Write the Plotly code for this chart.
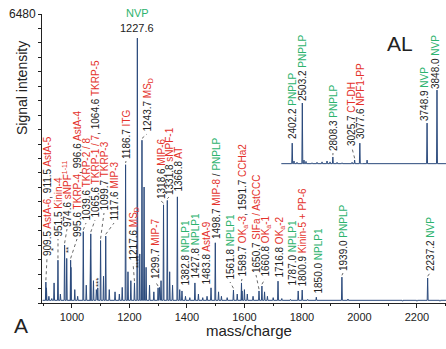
import plotly.graph_objects as go

# ---------------- data ----------------
main_mz = [909.5, 911.5, 938.0, 951.5, 974.6, 982.0, 995.6, 996.6, 1039.6, 1064.6,
           1065.6, 1090.0, 1099.7, 1117.6, 1186.7, 1217.6, 1227.6, 1236.0, 1243.7,
           1251.0, 1299.7, 1318.6, 1331.8, 1366.8, 1382.8, 1427.8, 1483.8, 1498.7,
           1561.8, 1589.7, 1591.7, 1650.7, 1660.8, 1716.8, 1787.0, 1800.9, 1850.0,
           1939.0, 2237.2]
main_int = [470, 340, 450, 960, 1300, 1000, 960, 800, 1600, 1200,
            1550, 340, 1400, 1500, 3100, 450, 5940, 1100, 3650,
            2600, 340, 2200, 2300, 2380, 270, 450, 340, 1350,
            290, 450, 270, 270, 380, 490, 270, 290, 130,
            580, 560]

minor_mz = [920, 930, 960, 1010, 1020, 1050, 1075, 1085, 1110, 1130, 1150, 1165,
            1175, 1195, 1205, 1258, 1270, 1285, 1305, 1310, 1340, 1350, 1375, 1395,
            1410, 1440, 1455, 1470, 1510, 1520, 1540, 1575, 1600, 1610, 1630, 1670,
            1680, 1700, 1730, 1760, 1820, 1870, 1900, 1960, 2000, 2050, 2100, 2150,
            2200, 2280]
minor_int = [150, 100, 200, 300, 150, 400, 500, 300, 600, 300, 250, 200,
             350, 700, 500, 800, 400, 250, 350, 500, 700, 400, 300, 150,
             120, 200, 120, 150, 250, 150, 120, 200, 300, 200, 150, 250,
             150, 120, 100, 80, 80, 60, 70, 90, 60, 50, 50, 40,
             40, 40]

inset_mz = [2402.2, 2503.2, 2808.3, 3025.7, 3077.6, 3748.9, 3848.0]
inset_int = [490, 1390, 180, 110, 490, 940, 1680]
inset_minor_mz = [2420, 2450, 2520, 2540, 2600, 2650, 2700, 2750, 2780, 2850,
                  2900, 2950, 3000, 3100, 3150, 3200, 3300, 3400, 3500, 3600, 3700]
inset_minor_int = [90, 60, 110, 80, 50, 60, 70, 90, 70, 60,
                   50, 40, 60, 40, 110, 40, 30, 30, 30, 30, 25]

x_ticks = [1000, 1200, 1400, 1600, 1800, 2000, 2200]
y_top = 6480

K, R, G = "#222222", "#e4322b", "#2db36e"

main_labels = [
    (909.5, [("909.5 ", K), ("AstA-6", R), (", 911.5 ", K), ("AstA-5", R)]),
    (951.5, [("951.5 ", K), ("Kinin-4", R)]),
    (974.6, [("974.6 ", K), ("sNPF<sup>1-11</sup>", R)]),
    (995.6, [("995.6 ", K), ("TKRP-4", R), (", 996.6 ", K), ("AstA-4", R)]),
    (1039.6, [("1039.6 ", K), ("TKRP-2 / 8", R)]),
    (1065.6, [("1065.6 ", K), ("TKRP-1 / 7", R), (", 1064.6 ", K), ("TKRP-5", R)]),
    (1099.7, [("1099.7 ", K), ("TKRP-3", R)]),
    (1117.6, [("1117.6 ", K), ("MIP-3", R)]),
    (1186.7, [("1186.7 ", K), ("ITG", R)]),
    (1217.6, [("1217.6 ", K), ("MS<sub>D</sub>", R)]),
    (1243.7, [("1243.7 ", K), ("MS<sub>D</sub>", R)]),
    (1299.7, [("1299.7 ", K), ("MIP-7", R)]),
    (1318.6, [("1318.6 ", K), ("MIP-6", R)]),
    (1331.8, [("1331.8 ", K), ("sNPF-1", R)]),
    (1366.8, [("1366.8 ", K), ("AT", R)]),
    (1382.8, [("1382.8 ", K), ("NPLP1", G)]),
    (1427.8, [("1427.8 ", K), ("NPLP1", G)]),
    (1483.8, [("1483.8 ", K), ("AstA-9", R)]),
    (1498.7, [("1498.7 ", K), ("MIP-8", R), (" / ", K), ("PNPLP", G)]),
    (1561.8, [("1561.8 ", K), ("NPLP1", G)]),
    (1589.7, [("1589.7 ", K), ("OK<sub>a</sub>-3", R), (", 1591.7 ", K), ("CCHa2", R)]),
    (1650.7, [("1650.7 ", K), ("SIFa / AstCCC", R)]),
    (1660.8, [("1660.8 ", K), ("OK<sub>a</sub>-1", R)]),
    (1716.8, [("1716.8 ", K), ("OK<sub>a</sub>-2", R)]),
    (1787.0, [("1787.0 ", K), ("NPLP1", G)]),
    (1800.9, [("1800.9 ", K), ("Kinin-5 + PP-6", R)]),
    (1850.0, [("1850.0 ", K), ("NPLP1", G)]),
    (1939.0, [("1939.0 ", K), ("PNPLP", G)]),
    (2237.2, [("2237.2 ", K), ("NVP", G)]),
]
inset_labels = [
    (2402.2, [("2402.2 ", K), ("PNPLP", G)]),
    (2503.2, [("2503.2 ", K), ("PNPLP", G)]),
    (2808.3, [("2808.3 ", K), ("PNPLP", G)]),
    (3025.7, [("3025.7 ", K), ("CT-DH", R)]),
    (3077.6, [("3077.6 ", K), ("NPF1-PP", R)]),
    (3748.9, [("3748.9 ", K), ("NVP", G)]),
    (3848.0, [("3848.0 ", K), ("NVP", G)]),
]

# ---------------- layout (positions in page pixels) ----------------
W, H = 446, 349
L, T, B = 42, 14, 46
PW, PH = W - L, H - T - B
X_RANGE = [896, 2301]
UNIT_PER_PX = y_top / PH
INSET_RANGE = [2292, 3938]
INSET_BASE_PX = 165

# label column x (px) and bottom y (px)
main_label_pos = [(47, 257), (58, 238), (67, 228), (77, 238), (86, 222), (95, 219),
                  (104, 212), (114, 222), (126, 160), (133, 262), (147, 133),
                  (155, 280), (161, 200), (169, 196), (178, 193), (185, 287),
                  (195, 280), (206, 286), (216, 240), (230, 281), (242, 278),
                  (256, 274), (265, 278), (279, 279), (292, 287), (302, 288),
                  (318, 295), (343, 272), (430, 272)]
inset_label_pos = [(292, 140), (302, 102), (333, 152), (352, 147), (360, 140),
                   (425, 122), (435, 90)]

FONT = "Liberation Sans, Arial, sans-serif"


def px_to_paper(px, py):
    return (px - L) / PW, (H - B - py) / PH


def sticks(mz, it, base, w, lo, hi):
    pts = sorted(zip(mz, it))
    xs, ys = [lo], [base]
    for m, h in pts:
        xs += [m - w, m, m + w]
        ys += [base, h, base]
    xs.append(hi)
    ys.append(base)
    return xs, ys


fig = go.Figure()

mx, my = sticks(main_mz + minor_mz, main_int + minor_int, 60, 1.6, X_RANGE[0] + 2, X_RANGE[1])
fig.add_trace(go.Scatter(x=mx, y=my, mode="lines", line=dict(color="#2b4a7c", width=1),
                         hoverinfo="skip", xaxis="x", yaxis="y"))

ix, iy = sticks(inset_mz + inset_minor_mz, inset_int + inset_minor_int, 30, 4.5,
                INSET_RANGE[0], INSET_RANGE[1])
fig.add_trace(go.Scatter(x=ix, y=iy, mode="lines", line=dict(color="#2b4a7c", width=1),
                         hoverinfo="skip", xaxis="x2", yaxis="y2"))

# leader lines
inset_units = (PH - (H - B - INSET_BASE_PX)) * UNIT_PER_PX


def add_leaders(labels, pos, mzs, ints, xa, ya, base_px):
    for (m, _), (cx, by) in zip(labels, pos):
        h = ints[mzs.index(m)]
        top_px = base_px - h / UNIT_PER_PX
        if top_px - by > 4:
            if xa == "x":
                lx = X_RANGE[0] + (cx - L) / PW * (X_RANGE[1] - X_RANGE[0])
                ly = (H - B - by - 1) * UNIT_PER_PX
            else:
                x0 = L + 0.592 * PW
                lx = INSET_RANGE[0] + (cx - x0) / (W - x0) * (INSET_RANGE[1] - INSET_RANGE[0])
                ly = (base_px - by - 1) * UNIT_PER_PX
            fig.add_trace(go.Scatter(x=[m, lx], y=[h + 40, ly], mode="lines",
                                     line=dict(color="#444444", width=0.8, dash="dot"),
                                     hoverinfo="skip", xaxis=xa, yaxis=ya))


add_leaders(main_labels, main_label_pos, main_mz, main_int, "x", "y", H - B)
add_leaders(inset_labels, inset_label_pos, inset_mz, inset_int, "x2", "y2", INSET_BASE_PX)


def rich(parts):
    return "".join(f'<span style="color:{c}">{t}</span>' for t, c in parts)


anns = []
for (m, parts), (cx, by) in zip(main_labels + inset_labels, main_label_pos + inset_label_pos):
    xp, yp = px_to_paper(cx, by)
    anns.append(dict(x=xp, y=yp, xref="paper", yref="paper", text=rich(parts),
                     textangle=-90, xanchor="center", yanchor="bottom", showarrow=False,
                     borderpad=0, font=dict(family=FONT, size=10, color=K)))

# top NVP label of 1227.6
for txt, col, py in [("NVP", G, 13), ("1227.6", K, 28)]:
    xp, yp = px_to_paper(137, py)
    anns.append(dict(x=xp, y=yp, xref="paper", yref="paper", text=txt, showarrow=False,
                     xanchor="center", yanchor="middle", font=dict(family=FONT, size=11, color=col)))

# asterisks
for txt, px, py in [("*", 53, 250), ("**", 68, 250), ("***", 98, 283), ("****", 138, 262)]:
    xp, yp = px_to_paper(px, py)
    anns.append(dict(x=xp, y=yp, xref="paper", yref="paper", text=txt, showarrow=False,
                     textangle=-90, xanchor="center", yanchor="middle",
                     font=dict(family=FONT, size=8, color=K)))

# titles and panel letters
for txt, px, py, size, ang in [("Signal intensity", 22, 88, 14, -90),
                               ("mass/charge", 249, 330, 15, 0),
                               ("A", 21, 325, 21, 0),
                               ("AL", 400, 43, 21, 0),
                               ("6480", 22, 14, 12, 0)]:
    xp, yp = px_to_paper(px, py)
    anns.append(dict(x=xp, y=yp, xref="paper", yref="paper", text=txt, showarrow=False,
                     textangle=ang, xanchor="center", yanchor="middle",
                     font=dict(family=FONT, size=size, color=K)))

n_y = 20
fig.update_layout(
    width=W, height=H, margin=dict(l=L, r=0, t=T, b=B),
    paper_bgcolor="white", plot_bgcolor="white", showlegend=False,
    font=dict(family=FONT, size=11, color=K),
    xaxis=dict(range=X_RANGE, domain=[0, 1], showgrid=False, zeroline=False,
               showline=True, linecolor="#222", linewidth=1, ticks="outside",
               ticklen=4, tickcolor="#222", tickvals=x_ticks,
               tickfont=dict(family=FONT, size=11, color=K),
               minor=dict(dtick=100, ticks="outside", ticklen=2, tickcolor="#222")),
    yaxis=dict(range=[0, y_top], domain=[0, 1], showgrid=False, zeroline=False,
               showline=True, linecolor="#222", linewidth=1, ticks="outside",
               ticklen=3, tickcolor="#222", showticklabels=False,
               tickvals=[y_top * i / n_y for i in range(n_y + 1)]),
    xaxis2=dict(range=INSET_RANGE, domain=[0.592, 1], anchor="y2", visible=False),
    yaxis2=dict(range=[0, inset_units], domain=[(H - B - INSET_BASE_PX) / PH, 1],
                anchor="x2", visible=False),
    annotations=anns,
)

fig.write_html("out.html")
